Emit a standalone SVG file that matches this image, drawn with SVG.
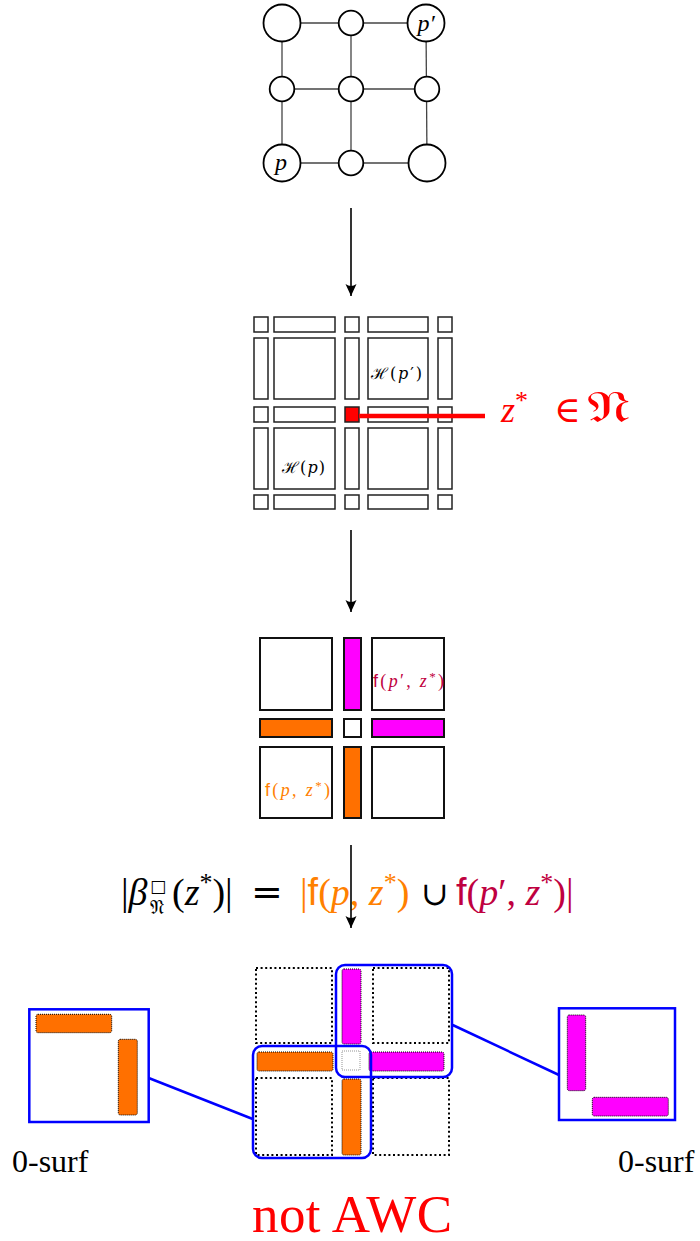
<svg xmlns="http://www.w3.org/2000/svg" width="700" height="1241" viewBox="0 0 700 1241">
<style>
.edge{stroke:#444;stroke-width:1.3;fill:none}
.nd{fill:#fff;stroke:#000;stroke-width:1.8}
.cell{fill:#fff;stroke:#222;stroke-width:1.5}
.cell3{fill:#fff;stroke:#111;stroke-width:2}
.dot{fill:#fff;stroke:#000;stroke-width:2;stroke-dasharray:2 2.6}
.bar{stroke:#000;stroke-width:1;stroke-dasharray:1 1}
.blue{fill:none;stroke:#0000ff;stroke-width:2.5}
.arr{stroke:#000;stroke-width:1.6;fill:none}
.serif{font-family:"Liberation Serif","DejaVu Serif",serif}
.sf{font-family:"Liberation Sans",sans-serif}
.it{font-style:italic}
</style>
<defs>
<marker id="ah" markerWidth="13" markerHeight="12" refX="12" refY="6" orient="auto" markerUnits="userSpaceOnUse" viewBox="0 0 13 12">
<path d="M12,6 L0,0.5 Q4,6 0,11.5 Z" fill="#000"/>
</marker>
</defs>

<g id="graph">
<g class="edges">
<line class="edge" x1="282" y1="23" x2="426" y2="23"/>
<line class="edge" x1="282" y1="89" x2="427" y2="89"/>
<line class="edge" x1="282" y1="163" x2="427" y2="163"/>
<line class="edge" x1="282" y1="23" x2="282" y2="163"/>
<line class="edge" x1="351" y1="23" x2="351" y2="163"/>
<line class="edge" x1="426" y1="23" x2="427" y2="163"/>
</g>
<g id="n-tl"><circle class="nd" cx="282" cy="23" r="18.5"/></g>
<g id="n-tm"><circle class="nd" cx="351" cy="23" r="12.3"/></g>
<g id="n-tr"><circle class="nd" cx="426" cy="23" r="18.5"/><text x="426" y="31" text-anchor="middle" class="serif it" font-size="24">p′</text></g>
<g id="n-ml"><circle class="nd" cx="282" cy="89" r="12.3"/></g>
<g id="n-mm"><circle class="nd" cx="351" cy="89" r="12.3"/></g>
<g id="n-mr"><circle class="nd" cx="427" cy="89" r="12.3"/></g>
<g id="n-bl"><circle class="nd" cx="282" cy="163" r="18.5"/><text x="281" y="170" text-anchor="middle" class="serif it" font-size="24">p</text></g>
<g id="n-bm"><circle class="nd" cx="351" cy="163" r="12.3"/></g>
<g id="n-br"><circle class="nd" cx="427" cy="163" r="18.5"/></g>
</g>

<g id="grid">
<rect class="cell" x="254" y="317" width="14" height="15"/>
<rect class="cell" x="274" y="317" width="61" height="15"/>
<rect class="cell" x="345" y="317" width="14" height="15"/>
<rect class="cell" x="368" y="317" width="60" height="15"/>
<rect class="cell" x="438" y="317" width="14" height="15"/>
<rect class="cell" x="254" y="338" width="14" height="61"/>
<rect class="cell" x="274" y="338" width="61" height="61"/>
<rect class="cell" x="345" y="338" width="14" height="61"/>
<rect class="cell" x="368" y="338" width="60" height="61"/>
<rect class="cell" x="438" y="338" width="14" height="61"/>
<rect class="cell" x="254" y="407" width="14" height="15"/>
<rect class="cell" x="274" y="407" width="61" height="15"/>
<rect x="345" y="407" width="14" height="15" fill="#ff0000" stroke="#222" stroke-width="1.5"/>
<rect class="cell" x="368" y="407" width="60" height="15"/>
<rect class="cell" x="438" y="407" width="14" height="15"/>
<rect class="cell" x="254" y="428" width="14" height="61"/>
<rect class="cell" x="274" y="428" width="61" height="61"/>
<rect class="cell" x="345" y="428" width="14" height="61"/>
<rect class="cell" x="368" y="428" width="60" height="61"/>
<rect class="cell" x="438" y="428" width="14" height="61"/>
<rect class="cell" x="254" y="495" width="14" height="14"/>
<rect class="cell" x="274" y="495" width="61" height="14"/>
<rect class="cell" x="345" y="495" width="14" height="14"/>
<rect class="cell" x="368" y="495" width="60" height="14"/>
<rect class="cell" x="438" y="495" width="14" height="14"/>
<text x="371" y="379" font-size="16" font-family="DejaVu Serif,serif" textLength="51" lengthAdjust="spacing">ℋ(<tspan class="it">p</tspan>′)</text>
<text x="282" y="473" font-size="16" font-family="DejaVu Serif,serif" textLength="43" lengthAdjust="spacing">ℋ(<tspan class="it">p</tspan>)</text>
</g>

<g id="faces">
<rect class="cell3" x="260" y="638" width="72" height="72"/>
<rect x="344" y="638" width="17" height="72" fill="#ff00ff" stroke="#111" stroke-width="2"/>
<rect class="cell3" x="372" y="638" width="72" height="72"/>
<rect x="260" y="719" width="72" height="18" fill="#ff7000" stroke="#111" stroke-width="2"/>
<rect class="cell3" x="344" y="719" width="17" height="18"/>
<rect x="372" y="719" width="72" height="18" fill="#ff00ff" stroke="#111" stroke-width="2"/>
<rect class="cell3" x="260" y="747" width="72" height="71"/>
<rect x="344" y="747" width="17" height="71" fill="#ff7000" stroke="#111" stroke-width="2"/>
<rect class="cell3" x="372" y="747" width="72" height="71"/>
<text x="373" y="687" font-size="18" fill="#bf0040" textLength="71" lengthAdjust="spacing"><tspan class="sf">f</tspan><tspan font-family="Liberation Serif,serif">(<tspan class="it">p</tspan>′, <tspan class="it">z</tspan><tspan font-size="13" dy="-6">*</tspan><tspan dy="6">)</tspan></tspan></text>
<text x="265" y="796" font-size="18" fill="#ff8000" textLength="65" lengthAdjust="spacing"><tspan class="sf">f</tspan><tspan font-family="Liberation Serif,serif">(<tspan class="it">p</tspan>, <tspan class="it">z</tspan><tspan font-size="13" dy="-6">*</tspan><tspan dy="6">)</tspan></tspan></text>
</g>

<g id="formula" font-size="38" class="serif">
<text x="121" y="905">|<tspan class="it">β</tspan></text>
<text x="150" y="892" font-size="17" font-family="DejaVu Sans,sans-serif">□</text>
<text x="150" y="914" font-size="20" font-family="DejaVu Serif,DejaVu Sans,serif">𝔑</text>
<text x="172" y="905">(<tspan class="it">z</tspan><tspan font-size="26" dy="-14">*</tspan><tspan dy="14">)|</tspan></text>
<text x="251" y="905" font-family="DejaVu Serif,serif" font-size="38">=</text>
<text x="300" y="905" fill="#ff8000">|<tspan class="sf">f</tspan>(<tspan class="it">p</tspan>, <tspan class="it">z</tspan><tspan font-size="26" dy="-14">*</tspan><tspan dy="14">)</tspan></text>
<text x="421" y="905" font-family="DejaVu Serif,serif" font-size="33">∪</text>
<text x="456" y="905" fill="#bf0040"><tspan class="sf">f</tspan>(<tspan class="it">p</tspan>′, <tspan class="it">z</tspan><tspan font-size="26" dy="-14">*</tspan><tspan dy="14">)|</tspan></text>
</g>

<g id="surface">
<rect class="dot" x="256" y="968" width="76" height="75"/>
<rect class="dot" x="373" y="968" width="76" height="75"/>
<rect class="dot" x="256" y="1078" width="76" height="77"/>
<rect class="dot" x="373" y="1078" width="76" height="77"/>
<rect class="bar" x="342" y="969" width="19" height="75" rx="2" fill="#ff00ff"/>
<rect class="bar" x="257" y="1052" width="76" height="19" rx="2" fill="#ff7000"/>
<rect x="342" y="1051" width="18" height="19" fill="#fff" stroke="#888" stroke-width="0.9" stroke-dasharray="1 1"/>
<rect class="bar" x="369" y="1052" width="75" height="19" rx="2" fill="#ff00ff"/>
<rect class="bar" x="342" y="1079" width="19" height="76" rx="2" fill="#ff7000"/>
<rect class="blue" x="336" y="965" width="116" height="112" rx="9"/>
<rect class="blue" x="253" y="1046" width="118" height="112" rx="9"/>
</g>

<g id="zoom-left">
<rect class="blue" x="29.3" y="1009.3" width="119.4" height="112.7"/>
<rect class="bar" x="36" y="1014.3" width="75.7" height="18.4" rx="2" fill="#ff7000"/>
<rect class="bar" x="118.3" y="1039.3" width="19" height="75.7" rx="2" fill="#ff7000"/>
<text x="12" y="1172" font-size="32" class="serif">0-surf</text>
</g>

<g id="zoom-right">
<rect class="blue" x="559" y="1008.3" width="116" height="111.7"/>
<rect class="bar" x="567.3" y="1015" width="18.4" height="75.7" rx="2" fill="#ff00ff"/>
<rect class="bar" x="592.3" y="1097.3" width="76" height="18.7" rx="2" fill="#ff00ff"/>
<text x="618" y="1172" font-size="32" class="serif">0-surf</text>
</g>

<g id="verdict">
<text x="252" y="1232" font-size="53" fill="#ff0000" class="serif" textLength="200" lengthAdjust="spacing">not AWC</text>
</g>

<g id="connectors">
<path class="arr" d="M351,208 L351,296" marker-end="url(#ah)"/>
<path class="arr" d="M351,530 L351,612" marker-end="url(#ah)"/>
<path class="arr" d="M351,845 L351,928" marker-end="url(#ah)"/>
<line x1="359" y1="416" x2="485" y2="416" stroke="#ff0000" stroke-width="4.5"/>
<line x1="148.7" y1="1078" x2="252.7" y2="1119" stroke="#0000ff" stroke-width="2.5"/>
<line x1="452.7" y1="1025" x2="559" y2="1075" stroke="#0000ff" stroke-width="2.5"/>
</g>

<g id="z-label" fill="#ff0000">
<text x="501" y="422" font-size="36" class="serif"><tspan class="it">z</tspan><tspan font-size="26" dy="-13">*</tspan></text>
<text x="554" y="422" font-family="DejaVu Serif,serif" font-size="36">∈</text>
<text x="587" y="422" font-family="DejaVu Serif,DejaVu Sans,serif" font-size="44" textLength="43" lengthAdjust="spacingAndGlyphs">𝔑</text>
</g>
</svg>
